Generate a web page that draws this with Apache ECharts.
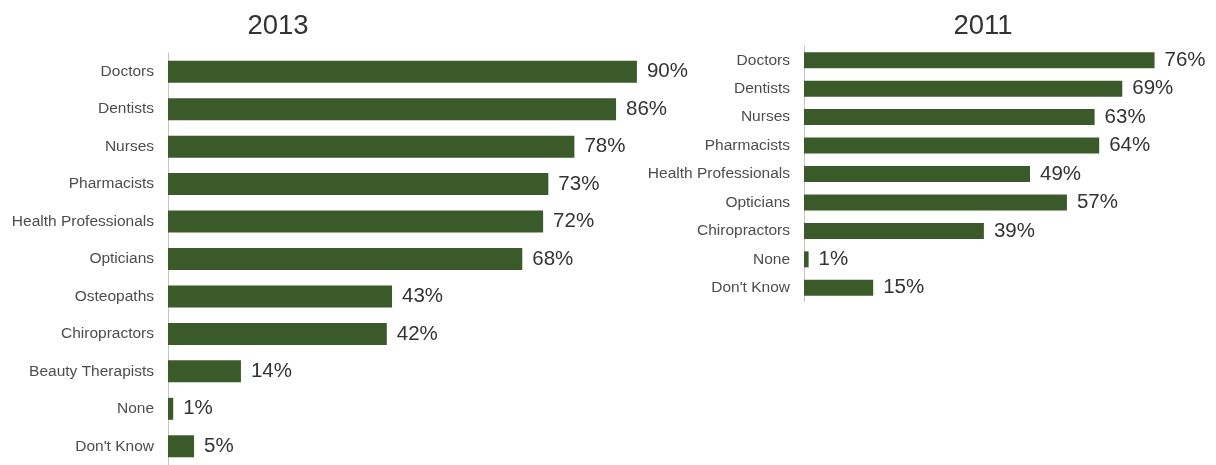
<!DOCTYPE html>
<html>
<head>
<meta charset="utf-8">
<script src="https://cdn.jsdelivr.net/npm/echarts@6/dist/echarts.min.js"></script>
<style>
  html, body { margin: 0; padding: 0; background: #fff; }
  #chart { width: 1216px; height: 465px; }
</style>
</head>
<body>
<div id="chart"></div>
<script>
// Survey results: who people trust, 2013 vs 2011 (percent)
const categories2013 = ['Doctors', 'Dentists', 'Nurses', 'Pharmacists', 'Health Professionals', 'Opticians', 'Osteopaths', 'Chiropractors', 'Beauty Therapists', 'None', "Don't Know"];
const values2013 = [90, 86, 78, 73, 72, 68, 43, 42, 14, 1, 5];

const categories2011 = ['Doctors', 'Dentists', 'Nurses', 'Pharmacists', 'Health Professionals', 'Opticians', 'Chiropractors', 'None', "Don't Know"];
const values2011 = [76, 69, 63, 64, 49, 57, 39, 1, 15];

const titles = ['2013', '2011'];

const BAR = '#3a5a2a';
const FONT = '"Liberation Sans", Arial, sans-serif';

function yAxisFor(idx, cats) {
  return {
    type: 'category', gridIndex: idx, data: cats, inverse: true,
    axisLine: { show: true, lineStyle: { color: '#c4c4c4', width: 1 } },
    axisTick: { show: false },
    axisLabel: { color: '#4d4d4d', fontSize: 15.5, fontFamily: FONT, margin: 14 }
  };
}
function xAxisFor(idx, max) {
  return {
    type: 'value', gridIndex: idx, min: 0, max: max, show: false
  };
}
function barSeries(idx, vals, width) {
  return {
    type: 'bar', xAxisIndex: idx, yAxisIndex: idx, data: vals,
    barWidth: width, itemStyle: { color: BAR },
    label: {
      show: true, position: 'right', distance: 10,
      formatter: '{c}%', color: '#333', fontSize: 20.5, fontFamily: FONT
    },
    silent: true, animation: false
  };
}

const chart = echarts.init(document.getElementById('chart'), null, { renderer: 'canvas' });
chart.setOption({
  backgroundColor: '#fff',
  animation: false,
  title: [
    { text: titles[0], left: 273, top: 7, textAlign: 'center',
      textStyle: { fontSize: 27.5, fontWeight: 'normal', color: '#333', fontFamily: FONT } },
    { text: titles[1], left: 978, top: 7, textAlign: 'center',
      textStyle: { fontSize: 27.5, fontWeight: 'normal', color: '#333', fontFamily: FONT } }
  ],
  grid: [
    { left: 168, top: 53, width: 521, height: 418 },
    { left: 804, top: 46, width: 369, height: 256 }
  ],
  xAxis: [xAxisFor(0, 100), xAxisFor(1, 80)],
  yAxis: [yAxisFor(0, categories2013), yAxisFor(1, categories2011)],
  series: [barSeries(0, values2013, 22), barSeries(1, values2011, 16)]
});
</script>
</body>
</html>
